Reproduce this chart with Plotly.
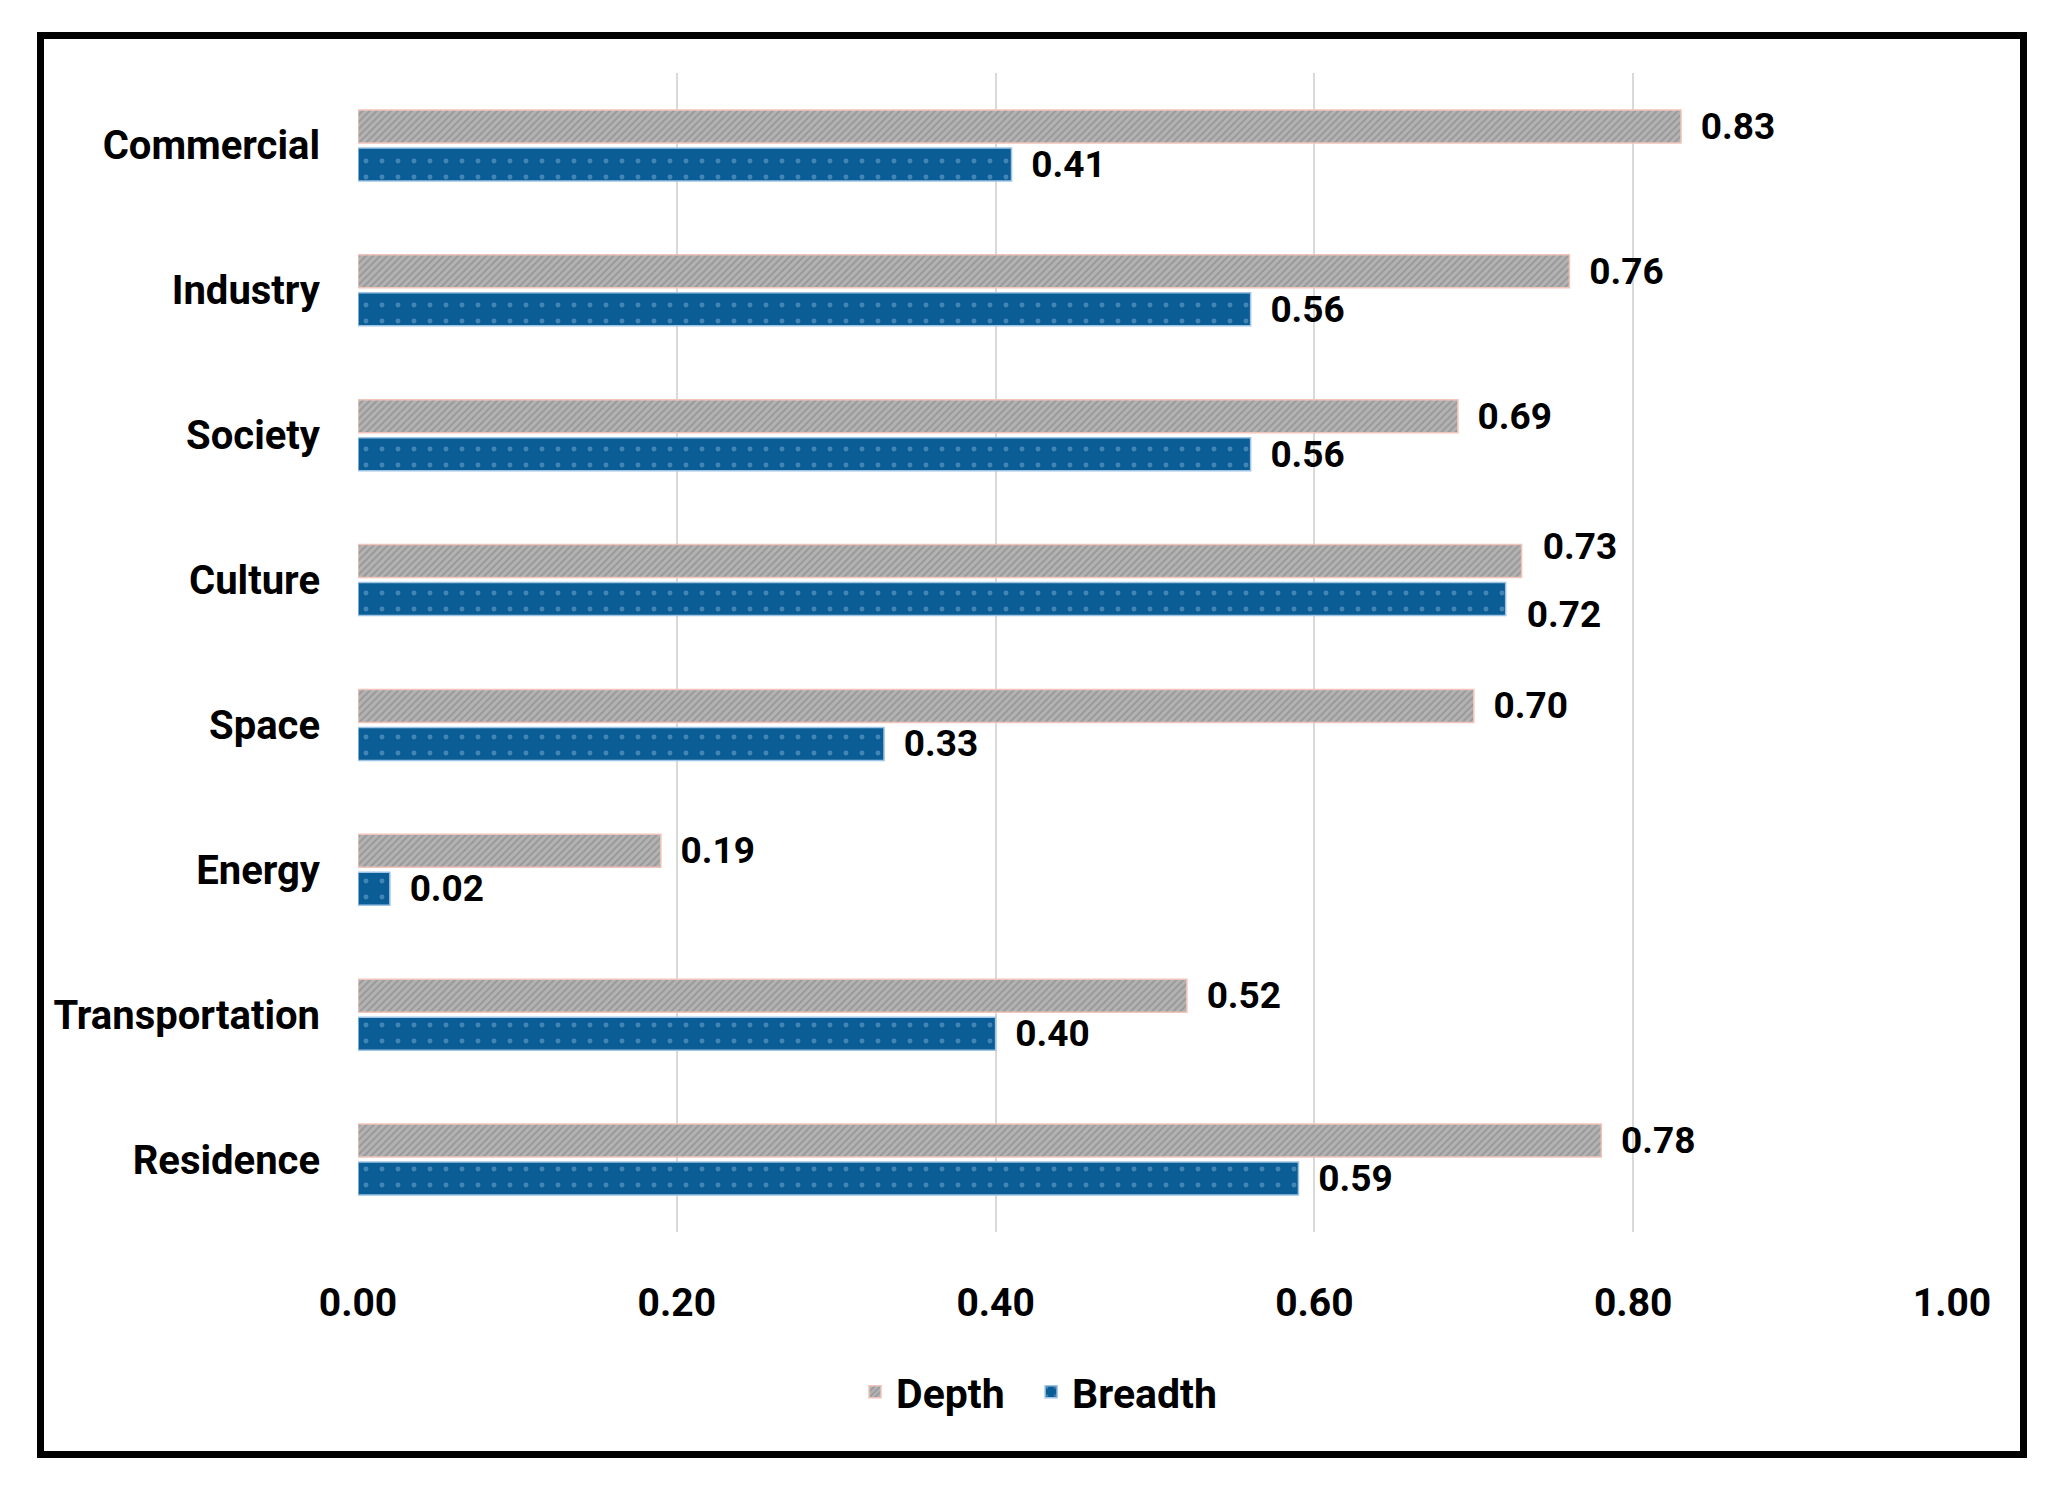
import plotly.graph_objects as go

categories = ["Commercial", "Industry", "Society", "Culture", "Space", "Energy", "Transportation", "Residence"]
depth = [0.83, 0.76, 0.69, 0.73, 0.70, 0.19, 0.52, 0.78]
breadth = [0.41, 0.56, 0.56, 0.72, 0.33, 0.02, 0.40, 0.59]
tick_vals = [0.0, 0.2, 0.4, 0.6, 0.8, 1.0]
tick_text = ["0.00", "0.20", "0.40", "0.60", "0.80", "1.00"]
# categories whose two value labels are pushed apart vertically (as in the source)
spread_labels = ["Culture"]

FONT = "Roboto, Noto Sans, sans-serif"
PREFIX = "\u00a0\u2009"
VAL_FONT = dict(family=FONT, size=37, color="black", weight="bold")
LEGEND_GAP = "\u00a0\u00a0"


def bar_texts(vals):
    return [("" if c in spread_labels else PREFIX + f"{v:.2f}") for c, v in zip(categories, vals)]


fig = go.Figure()
fig.add_trace(go.Bar(
    name="Depth" + LEGEND_GAP, y=categories, x=depth, orientation="h",
    marker=dict(color="#a6a6a6", line=dict(color="#f0c4ba", width=1.5),
                pattern=dict(shape="/", bgcolor="#b3b3b3", fgcolor="#7d7d7d", size=5, solidity=0.4)),
    text=bar_texts(depth), texttemplate="%{text}", textposition="outside", constraintext="none",
    textfont=VAL_FONT, cliponaxis=False,
))
fig.add_trace(go.Bar(
    name="Breadth", y=categories, x=breadth, orientation="h",
    marker=dict(color="#0b5e95", line=dict(color="#9dc3e6", width=1.5),
                pattern=dict(shape=".", bgcolor="#0b5e95", fgcolor="#7aaedb", size=16, solidity=0.07)),
    text=bar_texts(breadth), texttemplate="%{text}", textposition="outside", constraintext="none",
    textfont=VAL_FONT, cliponaxis=False,
))

annotations = []
for c, d, b in zip(categories, depth, breadth):
    if c in spread_labels:
        annotations.append(dict(x=d, y=c, xref="x", yref="y", text=PREFIX + f"{d:.2f}",
                                xanchor="left", yanchor="middle", showarrow=False,
                                xshift=2, yshift=34, font=VAL_FONT))
        annotations.append(dict(x=b, y=c, xref="x", yref="y", text=PREFIX + f"{b:.2f}",
                                xanchor="left", yanchor="middle", showarrow=False,
                                xshift=2, yshift=-34, font=VAL_FONT))

W, H = 2059, 1490
L, R, T, B = 358, 107, 73, 258
pw, ph = W - L - R, H - T - B


def px_x(p):
    return (p - L) / pw


def px_y(p):
    return (H - B - p) / ph


fig.update_layout(
    width=W, height=H,
    margin=dict(l=L, r=R, t=T, b=B, pad=0),
    paper_bgcolor="white", plot_bgcolor="white",
    barmode="group", bargap=0.476, bargroupgap=0.13,
    font=dict(family=FONT, size=39, color="black", weight="bold"),
    showlegend=True,
    legend=dict(orientation="h", x=px_x(1038), xanchor="center", y=px_y(1392), yanchor="middle",
                font=dict(family=FONT, size=41, color="black", weight="bold"),
                itemwidth=32, traceorder="normal"),
    xaxis=dict(range=[0, 1.0], tickvals=tick_vals, ticktext=tick_text,
               showgrid=True, gridcolor="#d9d9d9", gridwidth=2,
               zeroline=False, showline=False, ticks="", ticklabelstandoff=44,
               tickfont=dict(family=FONT, size=39, color="black", weight="bold")),
    yaxis=dict(categoryorder="array", categoryarray=categories, autorange="reversed",
               showgrid=False, zeroline=False, showline=False, ticks="", ticklabelstandoff=37,
               tickfont=dict(family=FONT, size=40, color="black", weight="bold")),
    annotations=annotations,
    shapes=[dict(type="rect", xref="paper", yref="paper",
                 x0=px_x(40.5), x1=px_x(2023.5), y0=px_y(1454.5), y1=px_y(35.5),
                 line=dict(color="black", width=7), fillcolor="rgba(0,0,0,0)", layer="below")],
)

fig.write_html("out.html", config={"displayModeBar": False},
               post_script="document.body.style.margin='0';document.body.style.overflow='hidden';")
